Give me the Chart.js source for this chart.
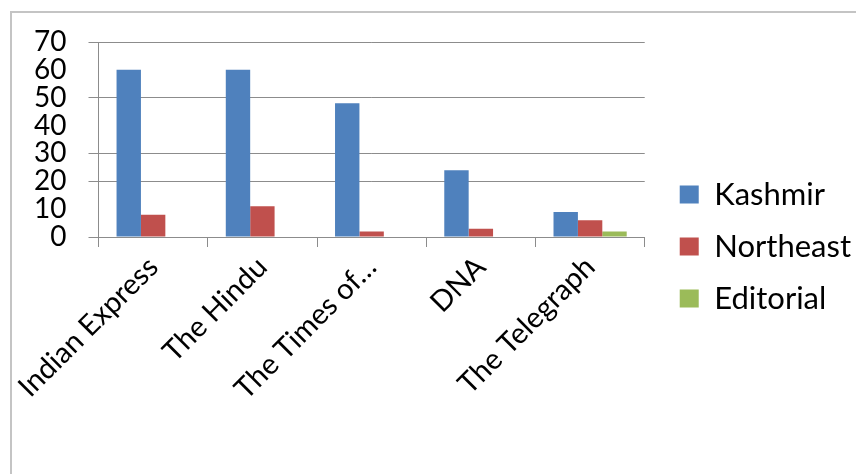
<!DOCTYPE html>
<html>
<head>
<meta charset="utf-8">
<script src="https://cdn.jsdelivr.net/npm/chart.js@4"></script>
<style>
  html, body { margin: 0; padding: 0; background: #fff; overflow: hidden; }
  #frame {
    position: absolute; left: 10px; top: 11px;
    width: 900px; height: 500px;
    border: 2px solid #c4c4c4;
  }
  #wrap { position: absolute; left: 0; top: 0; width: 852px; height: 461px; }
</style>
</head>
<body>
<div id="frame"><div id="wrap"><canvas id="bar-chart"></canvas></div></div>
<script>
var papers = ['Indian Express', 'The Hindu', 'The Times of…', 'DNA', 'The Telegraph'];
var kashmir = [60, 60, 48, 24, 9];
var northeast = [8, 11, 2, 3, 6];
var editorial = [0, 0, 0, 0, 2];
var yTicks = [0, 10, 20, 30, 40, 50, 60, 70];
var hiddenGrid = [10, 40, 60];

function createBarChart() {
	var ctx = document.getElementById('bar-chart').getContext('2d');

	var chart = new Chart(ctx, {
	    type: 'bar',
	    data: {
	        labels: papers,
	        datasets: [{
	            label: 'Kashmir',
	            backgroundColor: '#4F81BD',
	            data: kashmir
	        }, {
	            label: 'Northeast',
	            backgroundColor: '#C0504D',
	            data: northeast
	        }, {
	            label: 'Editorial',
	            backgroundColor: '#9BBB59',
	            data: editorial
	        }]
	    },
	    options: {
	        responsive: true,
	        maintainAspectRatio: false,
	        animation: false,
	        datasets: { bar: { categoryPercentage: 0.67, barPercentage: 1 } },
	        layout: { padding: { left: 0, top: 6, right: 3, bottom: 0 } },
	        plugins: {
	            tooltip: { enabled: false },
	            legend: {
	                position: 'right',
	                labels: {
	                    color: '#000',
	                    font: { family: 'Lato', size: 31 },
	                    boxWidth: 19,
	                    boxHeight: 18,
	                    padding: 21
	                }
	            }
	        },
	        scales: {
	            x: {
	                afterFit: function(axis) { axis.height = 237; },
	                grid: {
	                    offset: true,
	                    drawOnChartArea: false,
	                    color: '#8c8c8c',
	                    tickLength: 10
	                },
	                border: { color: '#8c8c8c' },
	                ticks: {
	                    color: '#000',
	                    font: { family: 'Lato', size: 29 },
	                    minRotation: 45,
	                    maxRotation: 45,
	                    autoSkip: false
	                }
	            },
	            y: {
	                min: 0,
	                max: 70,
	                afterBuildTicks: function(axis) {
	                    axis.ticks = yTicks.map(function(v) { return { value: v }; });
	                },
	                afterFit: function(axis) { axis.paddingTop = 29; },
	                grid: {
	                    color: function(c) {
	                        return hiddenGrid.indexOf(c.tick.value) >= 0 ? 'rgba(0,0,0,0)' : '#8c8c8c';
	                    },
	                    tickLength: 10
	                },
	                border: { color: '#8c8c8c' },
	                ticks: {
	                    color: '#000',
	                    font: { family: 'Lato', size: 28, lineHeight: 1 },
	                    padding: 22,
	                    autoSkip: false
	                }
	            },
	            // hidden spacer between the plot and the legend
	            gap: {
	                type: 'linear',
	                position: 'right',
	                display: false,
	                afterFit: function(axis) { axis.width = 14; }
	            }
	        }
	    }
	});
}

createBarChart();
</script>
</body>
</html>
